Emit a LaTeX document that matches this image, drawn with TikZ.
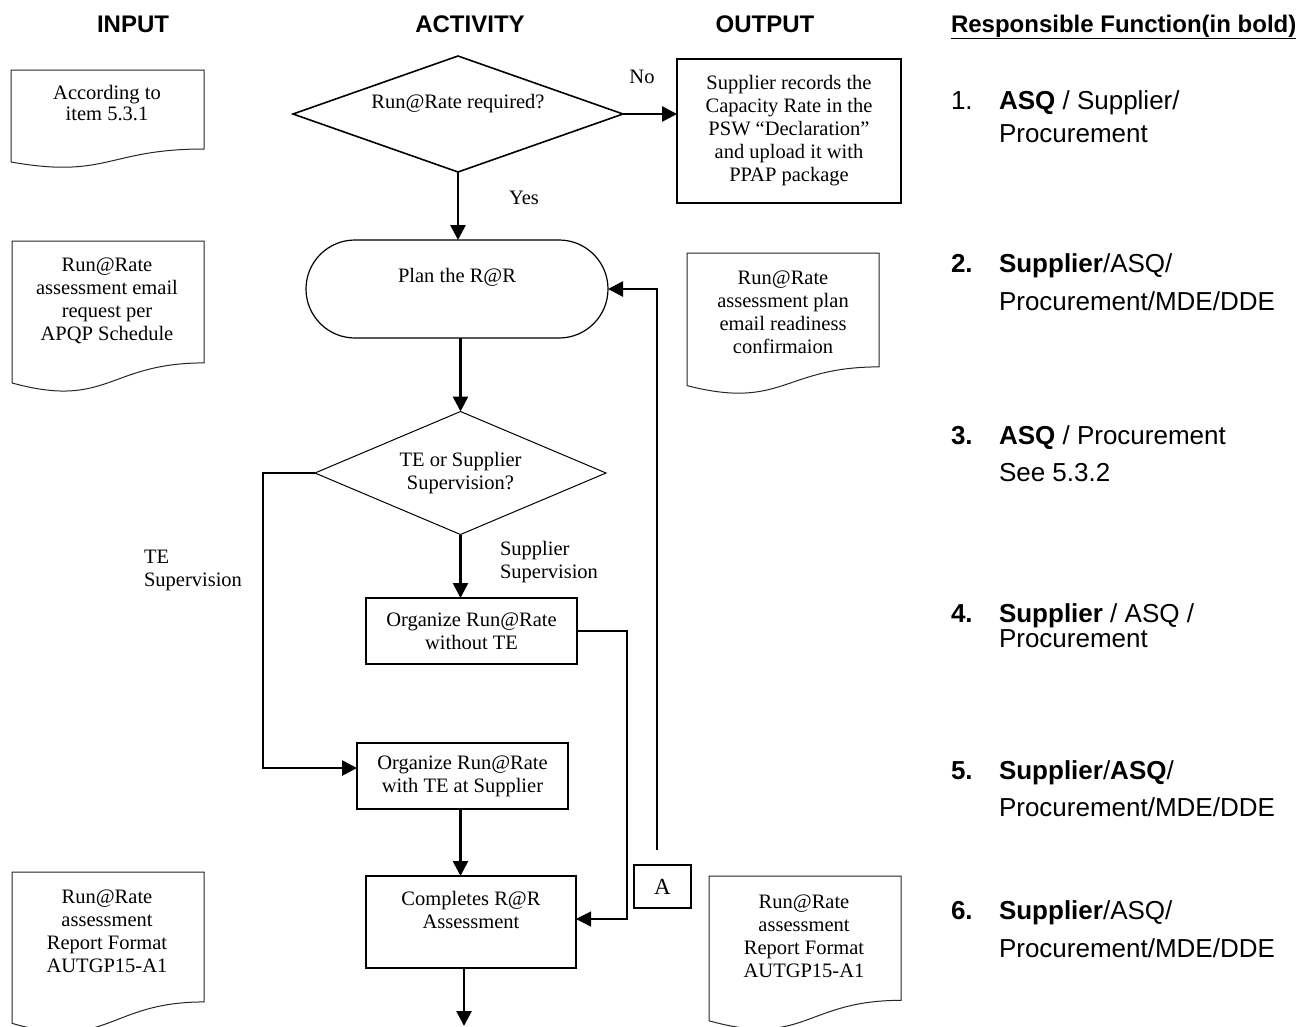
\documentclass[tikz,border=0pt]{standalone}
\usepackage{fontspec}
\setmainfont{Liberation Serif}
\newfontfamily\hfont{Liberation Sans}
\newfontfamily\rfont{Liberation Sans}
\usetikzlibrary{arrows.meta,shapes.geometric}

\newcommand\docpath[4]{%
  \draw[docline] (#1,#2) -- (#3,#2) -- (#3,{#2+0.802*#4})
    .. controls ({(#1+#3)/2},{#2+0.802*#4}) and ({(#1+#3)/2},{#2+1.107*#4}) ..
    (#1,{#2+0.934*#4}) -- cycle;}

\tikzset{
  every node/.style={font=\fontsize{20.5}{23}\selectfont, inner sep=0pt, outer sep=0pt},
  conn/.style={line width=2.7pt, -{Triangle[length=15pt,width=15pt]}},
  thinconn/.style={line width=1.2pt, -{Triangle[length=15pt,width=15pt]}},
  box/.style={draw, line width=1.2pt, rectangle},
  hd/.style={font=\hfont\bfseries\fontsize{24}{28}\selectfont},
  rt/.style={font=\rfont\fontsize{26}{30}\selectfont, anchor=base west},
  docline/.style={draw=black!85, line width=1pt},
  lbltop/.style={anchor=center, align=center}
}

\begin{document}
\begin{tikzpicture}[x=1pt, y=-1pt]
\fill[white] (0,0) rectangle (1311,1026);
\useasboundingbox (0,0) rectangle (1311,1026);

% headers
\node[hd] (hIn) at (133,24) {INPUT};
\node[hd] (hAct) at (470,24) {ACTIVITY};
\node[hd] (hOut) at (765,24) {OUTPUT};
\node[hd, anchor=base west] (hResp) at (951,32) {\underline{Responsible Function(in bold)}};

% documents
\docpath{11}{70}{204}{98.5}
\node[align=center, font=\fontsize{20.5}{20.5}\selectfont] (doc1) at (107,103) {According to\\item 5.3.1};
\docpath{12}{241}{204}{152}
\node[align=center] (doc2) at (107,300.5) {Run@Rate\\assessment email\\request per\\APQP Schedule};
\docpath{687}{253}{879}{142}
\node[align=center] (doc3) at (783,312.5) {Run@Rate\\assessment plan\\email readiness\\confirmaion};
\docpath{12}{872}{204}{162}
\node[align=center] (doc4) at (107,931) {Run@Rate\\assessment\\Report Format\\AUTGP15-A1};
\docpath{709}{876}{901}{155}
\node[align=center] (doc5) at (804,936) {Run@Rate\\assessment\\Report Format\\AUTGP15-A1};

% activity flow
\node[draw, diamond, line width=1.6pt, minimum width=330pt, minimum height=116pt,
      label={[lbltop,yshift=10pt]center:Run@Rate required?}] (d1) at (458,114) {};
\node[box, minimum width=224pt, minimum height=144pt, align=center] (b1) at (789,131)
  {Supplier records the\\Capacity Rate in the\\PSW “Declaration”\\and upload it with\\PPAP package};
\draw[conn] (d1.east) -- (b1.west |- d1.east);
\node (no) at (642,77) {No};
\node (yes) at (524,198) {Yes};

\node[draw, line width=1.2pt, rounded corners=49pt, minimum width=302pt, minimum height=98pt,
      label={[lbltop,yshift=12pt]center:Plan the R@R}] (plan) at (457,289) {};
\draw[conn] (d1.south) -- (plan.north -| d1.south);

\node[draw, diamond, line width=1pt, minimum width=291pt, minimum height=123pt,
      label={[lbltop]center:TE or Supplier\\Supervision?}] (d2) at (460.5,473) {};
\draw[conn] (plan.south -| d2.north) -- (d2.north);

\node[box, minimum width=211pt, minimum height=66pt, align=center] (orgA) at (471.5,631)
  {Organize Run@Rate\\without TE};
\draw[conn] (d2.south) -- (d2.south |- orgA.north);
\node[anchor=west, align=left] (lblSS) at (500,562.5) {Supplier\\Supervision};

\node[box, minimum width=211pt, minimum height=66pt, align=center] (orgB) at (462.5,776)
  {Organize Run@Rate\\with TE at Supplier};
\draw[conn] (d2.west) -- ++(-52,0) |- ([yshift=8pt]orgB.west);
\node[anchor=west, align=left] (lblTE) at (144,570) {TE\\Supervision};

\node[box, minimum width=210pt, minimum height=92pt,
      label={[lbltop,yshift=12pt]center:Completes R@R\\Assessment}] (comp) at (471,922) {};
\draw[conn] (orgB.south -| d2.south) -- (comp.north -| d2.south);
\draw[thinconn] (orgA.east) -- ++(50,0) |- ([yshift=3pt]comp.east);

\node[draw, line width=1.6pt, minimum width=57pt, minimum height=43pt,
      font=\fontsize{23}{26}\selectfont] (A) at (662.5,886.5) {A};
\coordinate (aTop) at (657,850);
\draw[conn] (aTop) |- (plan.east);

\coordinate (endpt) at (464,1026);
\draw[conn] (comp.south -| endpt) -- (endpt);

% responsible functions
\node[rt] (r1a) at (951,109) {\makebox[48pt][l]{1.}\textbf{ASQ} / Supplier/};
\node[rt] (r1b) at (999,142) {Procurement};
\node[rt] (r2a) at (951,272) {\makebox[48pt][l]{\textbf{2.}}\textbf{Supplier}/ASQ/};
\node[rt] (r2b) at (999,310) {Procurement/MDE/DDE};
\node[rt] (r3a) at (951,444) {\makebox[48pt][l]{\textbf{3.}}\textbf{ASQ} / Procurement};
\node[rt] (r3b) at (999,481) {See 5.3.2};
\node[rt] (r4a) at (951,622) {\makebox[48pt][l]{\textbf{4.}}\textbf{Supplier} / ASQ /};
\node[rt] (r4b) at (999,647) {Procurement};
\node[rt] (r5a) at (951,779) {\makebox[48pt][l]{\textbf{5.}}\textbf{Supplier}/\textbf{ASQ}/};
\node[rt] (r5b) at (999,816) {Procurement/MDE/DDE};
\node[rt] (r6a) at (951,919) {\makebox[48pt][l]{\textbf{6.}}\textbf{Supplier}/ASQ/};
\node[rt] (r6b) at (999,957) {Procurement/MDE/DDE};
\end{tikzpicture}
\end{document}
